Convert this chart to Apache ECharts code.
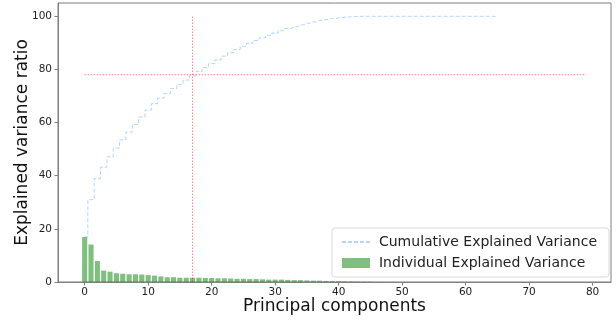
<!DOCTYPE html>
<html>
<head>
<meta charset="utf-8">
<script src="https://cdn.jsdelivr.net/npm/echarts@6/dist/echarts.min.js"></script>
<style>
  html, body { margin: 0; padding: 0; background: #fff; }
  #chart { width: 616px; height: 322px; }
</style>
</head>
<body>
<div id="chart"></div>
<script>
// individual explained variance per principal component (percent)
var individual = [
  16.9, 14.1, 7.9, 4.3, 3.9, 3.3, 3.1, 2.9, 2.9, 2.8,
  2.6, 2.4, 2.1, 1.8, 1.8, 1.6, 1.6, 1.6, 1.6, 1.5,
  1.5, 1.4, 1.4, 1.3, 1.2, 1.2, 1.1, 1.1, 1.0, 0.9,
  0.9, 0.9, 0.8, 0.7, 0.7, 0.6, 0.5, 0.5, 0.4, 0.35,
  0.3, 0.25, 0.2, 0.15, 0.12, 0.1, 0.02, 0.02, 0.01, 0.01,
  0.01, 0.0, 0.0, 0.0, 0.0, 0.0, 0.0, 0.0, 0.0, 0.0,
  0.0, 0.0, 0.0, 0.0, 0.0, 0.0
];
// cumulative explained variance (percent)
var cumulative = [
  16.9, 31.0, 38.9, 43.2, 47.1, 50.4, 53.5, 56.4, 59.3, 62.1,
  64.7, 67.1, 69.2, 71.0, 72.8, 74.4, 76.0, 77.6, 79.2, 80.7,
  82.2, 83.6, 85.0, 86.3, 87.5, 88.7, 89.8, 90.9, 91.9, 92.8,
  93.7, 94.6, 95.4, 96.1, 96.8, 97.4, 97.9, 98.4, 98.8, 99.15,
  99.45, 99.7, 99.85, 99.95, 100.0, 100.0, 100.0, 100.0, 100.0, 100.0,
  100.0, 100.0, 100.0, 100.0, 100.0, 100.0, 100.0, 100.0, 100.0, 100.0,
  100.0, 100.0, 100.0, 100.0, 100.0, 100.0
];
var xTicks = [0, 10, 20, 30, 40, 50, 60, 70, 80];
var yTicks = [0, 20, 40, 60, 80, 100];

// threshold guide lines
var thresholdX = 17;
var thresholdY = 78;
var hLineRange = [0, 79];
var vLineRange = [0, 100];

var components = individual.map(function (v, i) { return i; });

var chart = echarts.init(document.getElementById('chart'));

var axisGray = '#7f7f7f';
var font = 'DejaVu Sans';

chart.setOption({
  animation: false,
  grid: {
    left: 58, right: 5, top: 3, bottom: 40,
    outerBoundsMode: 'none',
    containLabel: false,
    show: true, borderColor: axisGray, borderWidth: 1
  },
  legend: {
    orient: 'vertical',
    right: 7,
    bottom: 45,
    itemWidth: 28,
    itemHeight: 10,
    itemGap: 7,
    padding: [7, 12, 7, 9],
    backgroundColor: '#fff',
    borderColor: '#d9d9d9',
    borderWidth: 1,
    borderRadius: 3,
    textStyle: { fontFamily: font, fontSize: 14, color: '#222', padding: [0, 0, 0, 4] },
    data: [
      { name: 'Cumulative Explained Variance', itemStyle: { color: 'transparent', borderWidth: 0 } },
      { name: 'Individual Explained Variance', icon: 'rect' }
    ]
  },
  xAxis: {
    type: 'value',
    min: -4.2,
    max: 82.9,
    name: 'Principal components',
    nameLocation: 'middle',
    nameGap: 16,
    nameMoveOverlap: false,
    nameTextStyle: { fontFamily: font, fontSize: 17, color: '#111', verticalAlign: 'top' },
    splitLine: { show: false },
    axisLine: { onZero: false, lineStyle: { color: axisGray } },
    axisTick: { show: true, length: 3.5, customValues: xTicks, lineStyle: { color: axisGray } },
    axisLabel: { customValues: xTicks, fontFamily: font, fontSize: 10.5, color: '#222', margin: 5 }
  },
  yAxis: {
    type: 'value',
    min: 0,
    max: 105,
    name: 'Explained variance ratio',
    nameLocation: 'middle',
    nameGap: 27,
    nameMoveOverlap: false,
    nameTextStyle: { fontFamily: font, fontSize: 17, color: '#111', verticalAlign: 'bottom' },
    splitLine: { show: false },
    axisLine: { show: true, onZero: false, lineStyle: { color: axisGray } },
    axisTick: { show: true, length: 3.5, customValues: yTicks, lineStyle: { color: axisGray } },
    axisLabel: { customValues: yTicks, fontFamily: font, fontSize: 10.5, color: '#222', margin: 6 }
  },
  series: [
    {
      name: 'Individual Explained Variance',
      type: 'bar',
      barWidth: 5.1,
      itemStyle: { color: 'rgba(0,128,0,0.5)' },
      data: components.map(function (c, i) { return [c, individual[i]]; })
    },
    {
      name: 'Cumulative Explained Variance',
      type: 'line',
      step: 'middle',
      symbol: 'none',
      lineStyle: { color: 'rgba(30,144,255,0.35)', width: 1, type: [4, 2] },
      itemStyle: { color: 'rgba(30,144,255,0.35)' },
      data: components.map(function (c, i) { return [c, cumulative[i]]; })
    },
    {
      name: 'hline',
      type: 'line',
      symbol: 'none',
      silent: true,
      lineStyle: { color: 'rgba(255,0,0,0.5)', width: 1, type: [1.5, 1.5] },
      data: [[hLineRange[0], thresholdY], [hLineRange[1], thresholdY]]
    },
    {
      name: 'vline',
      type: 'line',
      symbol: 'none',
      silent: true,
      lineStyle: { color: 'rgba(255,0,0,0.5)', width: 1, type: [1.5, 1.5] },
      data: [[thresholdX, vLineRange[0]], [thresholdX, vLineRange[1]]]
    }
  ]
});
</script>
</body>
</html>
